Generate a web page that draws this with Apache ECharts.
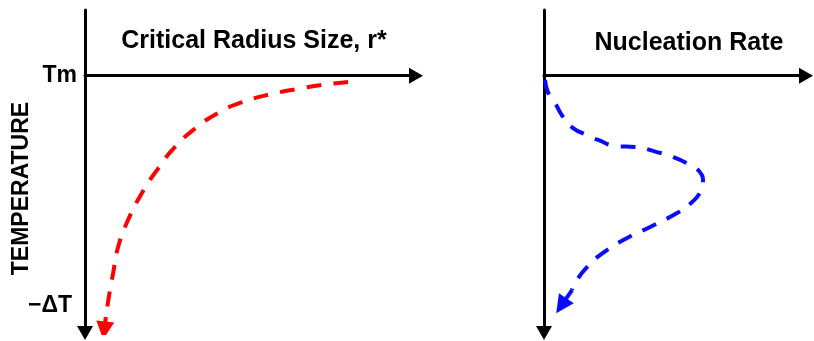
<!DOCTYPE html>
<html>
<head>
<meta charset="utf-8">
<script src="https://cdn.jsdelivr.net/npm/echarts@6/dist/echarts.min.js"></script>
<style>
html,body{margin:0;padding:0;background:#fff;}
#chart{width:814px;height:341px;}
</style>
</head>
<body>
<div id="chart"></div>
<script>
// ---- data ----
var leftTitle = 'Critical Radius Size, r*';
var rightTitle = 'Nucleation Rate';
var yAxisTitle = 'TEMPERATURE';
var yTickValues = [0, 89.2];
var yTickLabels = ['Tm', '\u2212\u0394T'];

// Critical radius curve (x: r*, y: undercooling depth below Tm)
var redX = [79.5, 71.0, 65.9, 56.5, 46.8, 40.2, 33.8, 27.2, 21.8, 17.2, 13.0, 10.0, 8.5, 7.3, 6.3, 5.8];
var redY = [2.5, 3.7, 4.8, 7.1, 10.6, 14.5, 20.0, 27.7, 36.6, 45.6, 56.1, 66.6, 76.7, 85.2, 93.8, 99.0];

// Nucleation rate curve
var blueX = [0.4, 1.5, 4.2, 7.3, 11.1, 16.4, 20.6, 27.9, 34.7, 43.1, 49.2, 55.7, 59.5, 60.7, 59.5, 55.7, 50.8, 40.5, 31.7, 22.5, 16.4, 11.8, 10.7, 6.6];
var blueY = [1.7, 6.4, 10.6, 16.1, 20.4, 23.1, 25.0, 27.4, 27.7, 29.7, 31.6, 34.7, 37.5, 41.3, 45.6, 49.9, 53.4, 58.8, 63.1, 68.9, 74.4, 80.6, 83.3, 89.4];

var yMin = -25.5, yMax = 100;
var xMin = 0, xMax = 100;

function pairs(xs, ys) { return xs.map(function (x, i) { return [x, ys[i]]; }); }
var redPts = pairs(redX, redY);
var bluePts = pairs(blueX, blueY);

var FONT = "'Liberation Sans', Arial, sans-serif";
function axisLine(sym) {
  return { show: true, symbol: sym, symbolSize: [16, 14], lineStyle: { color: '#000', width: 3 } };
}

function xAx(gi) {
  return { gridIndex: gi, type: 'value', min: xMin, max: xMax,
    axisLine: Object.assign({ onZero: true }, axisLine(['none', 'triangle'])),
    axisTick: { show: false }, axisLabel: { show: false }, splitLine: { show: false } };
}
function yAx(gi, labels) {
  return { gridIndex: gi, type: 'value', min: yMin, max: yMax, inverse: true,
    axisLine: Object.assign({ onZero: false }, axisLine(['triangle', 'none'])),
    axisTick: { show: false }, splitLine: { show: false },
    axisLabel: labels ? {
      show: true, customValues: yTickValues, margin: 8,
      color: '#000', fontSize: 23, fontWeight: 'bold', fontFamily: FONT,
      formatter: function (v) { var i = yTickValues.indexOf(v); return i >= 0 ? '{l' + i + '|' + yTickLabels[i] + '}' : ''; },
      rich: {
        l0: { fontSize: 23, fontWeight: 'bold', fontFamily: FONT, color: '#000' },
        l1: { fontSize: 23, fontWeight: 'bold', fontFamily: FONT, color: '#000', padding: [0, 5, 0, 0] }
      }
    } : { show: false } };
}

var chart = echarts.init(document.getElementById('chart'), null, { renderer: 'canvas' });
chart.setOption({
  animation: false,
  backgroundColor: '#fff',
  grid: [
    { left: 85, top: 10, width: 331, height: 323 },
    { left: 544, top: 10, width: 262, height: 323 }
  ],
  xAxis: [xAx(0), xAx(1)],
  yAxis: [yAx(0, true), yAx(1, false)],
  graphic: [
    { type: 'text', x: 254, y: 41, style: { text: leftTitle, align: 'center', verticalAlign: 'middle', fill: '#000', font: 'bold 25px ' + FONT } },
    { type: 'text', x: 689, y: 43, style: { text: rightTitle, align: 'center', verticalAlign: 'middle', fill: '#000', font: 'bold 25px ' + FONT } },
    { type: 'text', x: 22, y: 188.5, rotation: Math.PI / 2, style: { text: yAxisTitle, align: 'center', verticalAlign: 'middle', fill: '#000', font: 'bold 23px ' + FONT } }
  ],
  series: [
    { type: 'line', xAxisIndex: 0, yAxisIndex: 0, data: redPts.slice(0, redPts.length - 1),
      smooth: 0.5, showSymbol: false, silent: true,
      lineStyle: { color: '#ff0000', width: 4, type: [15, 12] } },
    { type: 'lines', coordinateSystem: 'cartesian2d', xAxisIndex: 0, yAxisIndex: 0, silent: true,
      symbol: ['none', 'triangle'], symbolSize: 18,
      lineStyle: { color: '#ff0000', width: 4, type: 'solid', opacity: 1, curveness: 0 },
      data: [{ coords: redPts.slice(redPts.length - 2) }] },
    { type: 'line', xAxisIndex: 1, yAxisIndex: 1, data: bluePts.slice(0, bluePts.length - 1),
      smooth: 0.5, showSymbol: false, silent: true,
      lineStyle: { color: '#0a0aff', width: 4, type: [15, 12] } },
    { type: 'lines', coordinateSystem: 'cartesian2d', xAxisIndex: 1, yAxisIndex: 1, silent: true,
      symbol: ['none', 'triangle'], symbolSize: 18,
      lineStyle: { color: '#0a0aff', width: 4, type: 'solid', opacity: 1, curveness: 0 },
      data: [{ coords: bluePts.slice(bluePts.length - 2) }] }
  ]
});
</script>
</body>
</html>
